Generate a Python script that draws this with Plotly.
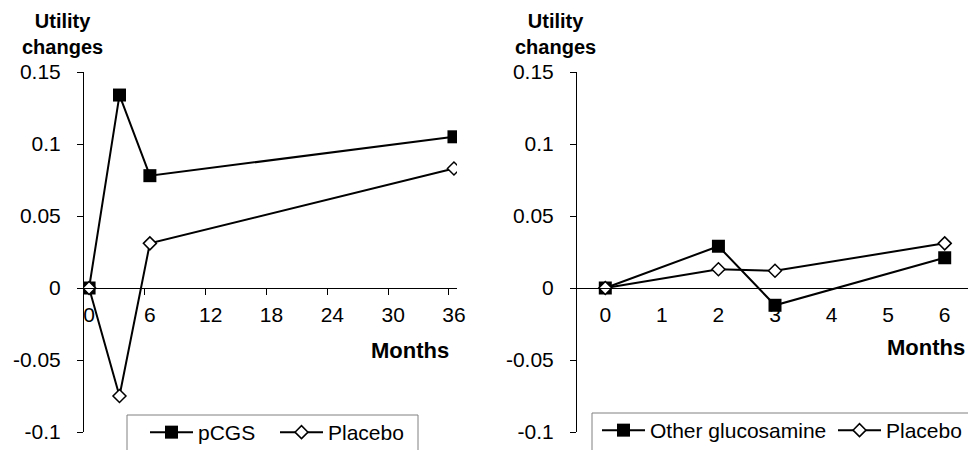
import plotly.graph_objects as go

# ---- data ----
months_left = [0, 3, 6, 36]
pcgs = [0, 0.134, 0.078, 0.105]
placebo_left = [0, -0.075, 0.031, 0.083]

months_right = [0, 2, 3, 6]
other_glucosamine = [0, 0.029, -0.012, 0.021]
placebo_right = [0, 0.013, 0.012, 0.031]

left_xticks = [0, 6, 12, 18, 24, 30, 36]
right_xticks = [0, 1, 2, 3, 4, 5, 6]
yticks = [-0.1, -0.05, 0, 0.05, 0.1, 0.15]
ytick_text = ["-0.1", "-0.05", "0", "0.05", "0.1", "0.15"]

# page body has an 8px default margin: size the figure to the remaining area
OFF = 8
W, H = 976 - OFF, 450 - OFF
FONT = "Arial, Liberation Sans, sans-serif"


def px(x):
    return (x - OFF) / W


def py(y):
    return 1 - (y - OFF) / H


y_range = [-0.1, 0.15]
y_dom = [py(432), py(72)]
zero_pos = y_dom[0] + (0 - y_range[0]) / (y_range[1] - y_range[0]) * (y_dom[1] - y_dom[0])

fig = go.Figure()

sq = dict(symbol="square", size=13, color="black")
dm = dict(symbol="diamond", size=10, color="white", line=dict(color="black", width=1.5))

fig.add_trace(go.Scatter(x=months_left, y=pcgs, name="pCGS", mode="lines+markers",
                         line=dict(color="black", width=2), marker=sq,
                         xaxis="x", yaxis="y", legend="legend"))
fig.add_trace(go.Scatter(x=months_left, y=placebo_left, name="Placebo", mode="lines+markers",
                         line=dict(color="black", width=2), marker=dm,
                         xaxis="x", yaxis="y", legend="legend"))
fig.add_trace(go.Scatter(x=months_right, y=other_glucosamine, name="Other glucosamine",
                         mode="lines+markers", line=dict(color="black", width=2), marker=sq,
                         xaxis="x2", yaxis="y2", legend="legend2"))
fig.add_trace(go.Scatter(x=months_right, y=placebo_right, name="Placebo", mode="lines+markers",
                         line=dict(color="black", width=2), marker=dm,
                         xaxis="x2", yaxis="y2", legend="legend2"))

yax = dict(range=y_range, domain=y_dom, tickvals=yticks, ticktext=ytick_text,
           showline=True, linecolor="black", linewidth=1, ticks="outside", ticklen=6,
           tickcolor="black", showgrid=False, zeroline=False, automargin=False,
           tickfont=dict(family=FONT, size=21, color="black"), ticklabelstandoff=12)

leg_common = dict(orientation="h", xanchor="left", yanchor="top", borderwidth=0,
                  bgcolor="rgba(0,0,0,0)", itemwidth=43,
                  entrywidthmode="pixels", font=dict(family=FONT, size=21, color="black"))

fig.update_layout(
    width=W, height=H,
    margin=dict(l=0, r=0, t=0, b=0, autoexpand=False),
    paper_bgcolor="white", plot_bgcolor="white",
    font=dict(family=FONT, color="black"),
    xaxis=dict(domain=[px(84), px(457)], range=[-0.5, 36.3], anchor="free", position=zero_pos,
               tickvals=left_xticks, showline=True, linecolor="black", linewidth=1,
               ticks="", showgrid=False, zeroline=False, automargin=False,
               minor=dict(tickvals=[v - 0.5 for v in left_xticks[1:]], ticks="outside",
                          ticklen=6, tickcolor="black", showgrid=False),
               tickfont=dict(family=FONT, size=21, color="black"), ticklabelstandoff=8),
    yaxis=dict(anchor="x", **yax),
    xaxis2=dict(domain=[px(577), px(973)], range=[-0.5, 6.5], anchor="free", position=zero_pos,
                tickvals=right_xticks, showline=True, linecolor="black", linewidth=1,
                ticks="", showgrid=False, zeroline=False, automargin=False,
                tickfont=dict(family=FONT, size=21, color="black"), ticklabelstandoff=8),
    yaxis2=dict(anchor="x2", **yax),
    legend=dict(x=px(145), y=py(412), entrywidth=72, **leg_common),
    legend2=dict(x=px(597), y=py(410), entrywidth=178, **leg_common),
    showlegend=True,
)

# legend frames (cut by the bottom edge as in the reference)
for x0, x1, y0 in ((127, 418, 415), (592, 971, 413)):
    fig.add_shape(type="rect", xref="paper", yref="paper",
                  x0=px(x0), x1=px(x1), y0=py(y0), y1=py(470),
                  line=dict(color="#808080", width=1), fillcolor="rgba(0,0,0,0)", layer="below")

for cx in (62, 555):
    fig.add_annotation(text="<b>Utility<br>changes</b>", x=px(cx), y=py(34),
                       xref="paper", yref="paper", showarrow=False, yanchor="middle",
                       xanchor="center",
                       font=dict(family=FONT, size=20, color="black"), align="center")

for cx, cy in ((410, 350), (926, 347)):
    fig.add_annotation(text="<b>Months</b>", x=px(cx), y=py(cy), xref="paper", yref="paper",
                       showarrow=False, yanchor="middle", xanchor="center",
                       font=dict(family=FONT, size=22, color="black"))

fig.write_html("out.html")
